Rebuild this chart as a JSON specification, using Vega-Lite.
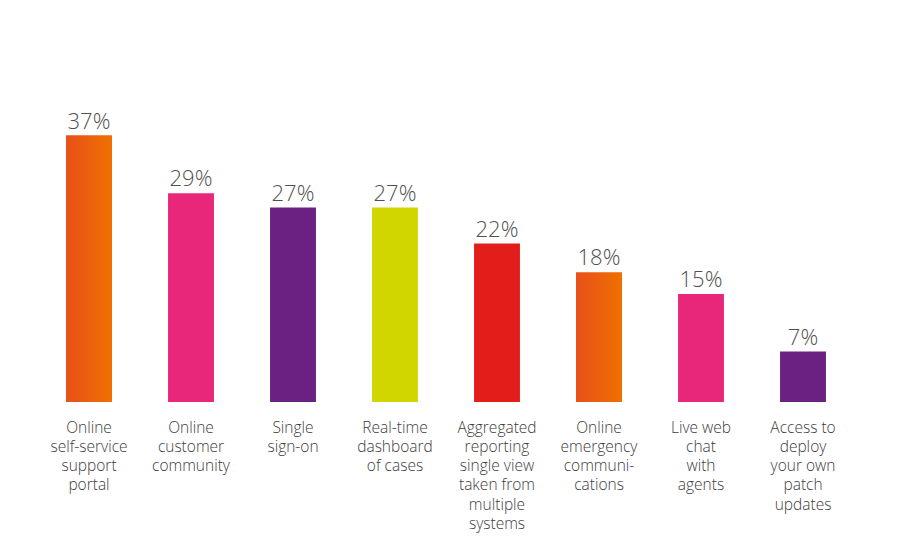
{
  "$schema": "https://vega.github.io/schema/vega-lite/v6.json",
  "autosize": "none",
  "width": 816,
  "height": 360,
  "padding": {"left": 38, "top": 42, "right": 46, "bottom": 158},
  "background": "white",
  "config": {"view": {"stroke": null}, "font": "Open Sans"},
  "data": {"values": [
    {"feature": "Online|self-service|support|portal", "value": 0.37, "group": "orange"},
    {"feature": "Online|customer|community", "value": 0.29, "group": "pink"},
    {"feature": "Single|sign-on", "value": 0.27, "group": "purple"},
    {"feature": "Real-time|dashboard|of cases", "value": 0.27, "group": "lime"},
    {"feature": "Aggregated|reporting|single view|taken from|multiple|systems", "value": 0.22, "group": "red"},
    {"feature": "Online|emergency|communi-|cations", "value": 0.18, "group": "orange"},
    {"feature": "Live web|chat|with|agents", "value": 0.15, "group": "pink"},
    {"feature": "Access to|deploy|your own|patch|updates", "value": 0.07, "group": "purple"}
  ]},
  "encoding": {
    "x": {
      "field": "feature", "type": "nominal", "sort": null,
      "scale": {"paddingInner": 0.55, "paddingOuter": 0.275},
      "axis": {
        "title": null, "domain": false, "ticks": false, "labelAngle": 0,
        "labelExpr": "split(datum.label, '|')",
        "labelFont": "Open Sans", "labelFontWeight": 300, "labelFontSize": 15.5,
        "labelColor": "#3c3c3c", "labelPadding": 18, "labelLineHeight": 19.3,
        "labelBaseline": "top", "labelLimit": 0
      }
    },
    "y": {
      "field": "value", "type": "quantitative",
      "scale": {"domain": [0, 0.5]},
      "axis": null
    }
  },
  "layer": [
    {
      "mark": {"type": "bar"},
      "encoding": {
        "color": {
          "field": "group", "type": "nominal", "legend": null,
          "scale": {
            "domain": ["orange", "pink", "purple", "lime", "red"],
            "range": ["#EC6010", "#E8267A", "#6B2182", "#D2D600", "#E31E1A"]
          }
        }
      }
    },
    {
      "transform": [{"filter": "datum.group === 'orange'"}],
      "mark": {
        "type": "bar",
        "color": {
          "gradient": "linear", "x1": 0, "x2": 1, "y1": 0, "y2": 0,
          "stops": [
            {"offset": 0, "color": "#E8501A"},
            {"offset": 1, "color": "#F07000"}
          ]
        }
      }
    },
    {
      "mark": {
        "type": "text", "baseline": "alphabetic", "dy": -7,
        "font": "Open Sans", "fontWeight": 300, "fontSize": 22, "color": "#505050"
      },
      "encoding": {
        "text": {"field": "value", "type": "quantitative", "format": ".0%"}
      }
    }
  ]
}
